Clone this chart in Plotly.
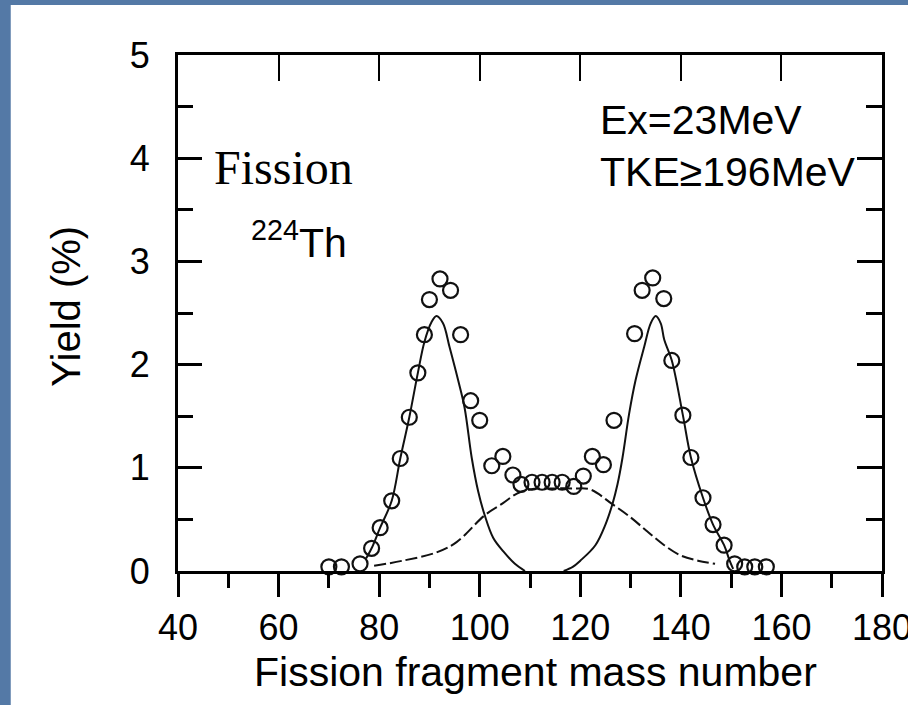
import plotly.graph_objects as go

# ---------------- data ----------------
mass = [70.0, 72.5, 76.2, 78.5, 80.2, 82.5, 84.2, 86.0, 87.7, 89.0, 90.0, 92.1,
        94.2, 96.2, 98.2, 100.0, 102.4, 104.6, 106.6, 108.2, 110.4, 112.4, 114.4,
        116.4, 118.7, 120.6, 122.4, 124.6, 126.7, 130.8, 132.3, 134.4, 136.6,
        138.2, 140.4, 142.0, 144.4, 146.4, 148.6, 150.7, 152.7, 154.7, 157.0]
yield_pct = [0.04, 0.04, 0.07, 0.22, 0.42, 0.68, 1.09, 1.49, 1.92, 2.29, 2.63, 2.83,
             2.72, 2.29, 1.65, 1.46, 1.02, 1.11, 0.93, 0.84, 0.86, 0.86, 0.86,
             0.86, 0.82, 0.92, 1.11, 1.03, 1.46, 2.30, 2.72, 2.84, 2.64,
             2.04, 1.51, 1.10, 0.71, 0.45, 0.25, 0.07, 0.04, 0.04, 0.04]

# light symmetric-fission component (solid)
light_x = [77.4, 78.5, 80.2, 82.5, 84.2, 86.0, 87.7, 89.0, 90.4, 91.4, 92.7, 94.0,
           95.7, 97.0, 98.4, 99.7, 101.0, 102.7, 104.7, 107.0, 109.0]
light_y = [0.12, 0.22, 0.42, 0.68, 1.09, 1.49, 1.92, 2.22, 2.41, 2.47, 2.40, 2.17,
           1.85, 1.58, 1.10, 0.77, 0.54, 0.32, 0.19, 0.07, 0.0]

# heavy symmetric-fission component (solid)
heavy_x = [116.7, 118.5, 120.0, 123.0, 125.0, 126.4, 127.4, 128.4, 129.7, 131.0,
           132.7, 134.0, 135.0, 136.0, 136.7, 138.2, 140.4, 142.0, 144.4, 146.4,
           148.6, 149.7, 150.4]
heavy_y = [0.0, 0.04, 0.10, 0.25, 0.45, 0.65, 0.84, 1.10, 1.52, 1.85,
           2.17, 2.40, 2.47, 2.40, 2.24, 2.04, 1.51, 1.10, 0.71, 0.45,
           0.25, 0.10, 0.02]

# broad middle component (dashed)
mid_x = [79.0, 84.7, 91.4, 95.4, 101.0, 104.7, 107.4, 110.0, 114.7, 118.7, 122.0,
         126.3, 130.0, 133.4, 136.7, 140.0, 143.4, 146.8]
mid_y = [0.05, 0.10, 0.18, 0.28, 0.54, 0.66, 0.75, 0.79, 0.80, 0.80, 0.79,
         0.65, 0.52, 0.38, 0.25, 0.15, 0.10, 0.07]

x_ticks = [40, 60, 80, 100, 120, 140, 160, 180]
y_ticks = [0, 1, 2, 3, 4, 5]

# ---------------- layout geometry ----------------
W, H = 908, 705
L, R, T, B = 177.5, 882.5, 55.0, 571.0
PW, PH = R - L, B - T


def px(xp):
    return (xp - L) / PW


def py(yp):
    return (B - yp) / PH


SANS = "Arial, Liberation Sans, sans-serif"
SERIF = "Times New Roman, Liberation Serif, serif"
INK = "#111111"

fig = go.Figure()

fig.add_trace(go.Scatter(x=light_x, y=light_y, mode="lines",
                         line=dict(color=INK, width=2, shape="spline"),
                         hoverinfo="skip", showlegend=False))
fig.add_trace(go.Scatter(x=heavy_x, y=heavy_y, mode="lines",
                         line=dict(color=INK, width=2, shape="spline"),
                         hoverinfo="skip", showlegend=False))
fig.add_trace(go.Scatter(x=mid_x, y=mid_y, mode="lines",
                         line=dict(color=INK, width=2, shape="spline", dash="12px,4px"),
                         hoverinfo="skip", showlegend=False))
fig.add_trace(go.Scatter(x=mass, y=yield_pct, mode="markers", cliponaxis=False,
                         marker=dict(symbol="circle-open", size=15,
                                     line=dict(color=INK, width=2.2), color=INK),
                         showlegend=False))
# invisible trace to keep the mirror axes alive
fig.add_trace(go.Scatter(x=[40], y=[0], xaxis="x2", yaxis="y2", mode="markers",
                         marker=dict(opacity=0), hoverinfo="skip", showlegend=False))

axis_common = dict(showgrid=False, zeroline=False, showline=True, automargin=False,
                   linecolor="black", linewidth=3, tickcolor="black")

fig.update_layout(
    width=W, height=H,
    margin=dict(l=L, r=W - R, t=T, b=H - B, pad=0, autoexpand=False),
    paper_bgcolor="#5479a6",
    plot_bgcolor="white",
    xaxis=dict(range=[40, 180], tickvals=x_ticks, ticks="outside", ticklen=23,
               tickwidth=3, ticklabeloverflow="allow",
               minor=dict(dtick=10, tick0=40, ticks="outside", ticklen=14,
                          tickwidth=3, tickcolor="black"),
               tickfont=dict(family=SANS, size=36, color="black"),
               **axis_common),
    yaxis=dict(range=[0, 5], tickvals=y_ticks, ticks="inside", ticklen=24,
               tickwidth=3, ticklabeloverflow="allow",
               minor=dict(dtick=0.5, tick0=0, ticks="inside", ticklen=15,
                          tickwidth=3, tickcolor="black"),
               tickfont=dict(family=SANS, size=36, color="black"),
               ticklabelstandoff=18,
               **axis_common),
    xaxis2=dict(range=[40, 180], overlaying="x", side="top", anchor="y2",
                tickvals=x_ticks, ticks="inside", ticklen=26, tickwidth=2,
                showticklabels=False, **axis_common),
    yaxis2=dict(range=[0, 5], overlaying="y", side="right", anchor="x2",
                tickvals=y_ticks, ticks="inside", ticklen=25, tickwidth=2.5,
                minor=dict(dtick=0.5, tick0=0, ticks="inside", ticklen=16,
                           tickwidth=2.5, tickcolor="black"),
                showticklabels=False, **axis_common),
    shapes=[dict(type="rect", xref="paper", yref="paper", layer="below",
                 x0=px(10), x1=px(912), y0=py(710), y1=py(5),
                 fillcolor="white", line=dict(width=0))],
    annotations=[
        dict(text="Ex=23MeV", xref="paper", yref="paper", x=px(598), y=py(120),
             xanchor="left", yanchor="middle", showarrow=False,
             font=dict(family=SANS, size=41, color="black")),
        dict(text="TKE\u2265196MeV", xref="paper", yref="paper", x=px(598), y=py(172),
             xanchor="left", yanchor="middle", showarrow=False,
             font=dict(family=SANS, size=41, color="black")),
        dict(text="Fission", xref="paper", yref="paper", x=px(212), y=py(168),
             xanchor="left", yanchor="middle", showarrow=False,
             font=dict(family=SERIF, size=48, color="black")),
        dict(text="<sup>224</sup>Th", xref="paper", yref="paper", x=px(249), y=py(240),
             xanchor="left", yanchor="middle", showarrow=False,
             font=dict(family=SANS, size=41, color="black")),
        dict(text="Yield (%)", xref="paper", yref="paper", x=px(65), y=py(306),
             xanchor="center", yanchor="middle", textangle=-90, showarrow=False,
             font=dict(family=SANS, size=40, color="black")),
        dict(text="Fission fragment mass number", xref="paper", yref="paper",
             x=px(536), y=py(672), xanchor="center", yanchor="middle",
             showarrow=False, font=dict(family=SANS, size=41, color="black")),
    ],
)

fig.write_html("out.html")
